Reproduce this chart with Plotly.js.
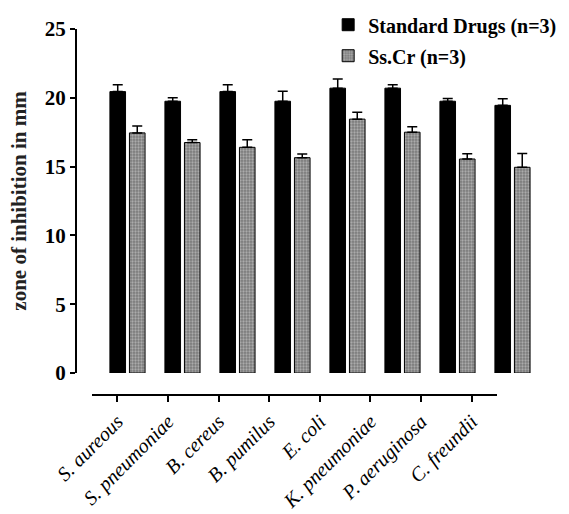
<!DOCTYPE html>
<html>
<head>
<meta charset="utf-8">
<script src="https://cdn.plot.ly/plotly-3.0.1.min.js"></script>
<style>html,body{margin:0;padding:0;background:#fff;}#chart{width:569px;height:514px;}</style>
</head>
<body>
<div id="chart"></div>
<script>
var categories = ["S. aureous", "S. pneumoniae", "B. cereus", "B. pumilus", "E. coli", "K. pneumoniae", "P. aeruginosa", "C. freundii"];
var stdValues = [20.45, 19.75, 20.45, 19.75, 20.7, 20.7, 19.75, 19.45];
var stdErrors = [0.5, 0.25, 0.5, 0.73, 0.67, 0.24, 0.2, 0.48];
var ssValues = [17.45, 16.75, 16.4, 15.65, 18.45, 17.5, 15.55, 14.95];
var ssErrors = [0.5, 0.2, 0.55, 0.27, 0.5, 0.4, 0.38, 1.0];
var seriesNames = ["Standard Drugs (n=3)", "Ss.Cr (n=3)"];
var yTicks = [0, 5, 10, 15, 20, 25];
var zeros = categories.map(function(){return 0;});

var serif = "Liberation Serif, Times New Roman, serif";

var traces = [
  {
    type: "bar", name: seriesNames[0], x: categories, y: stdValues, legendgroup: "a",
    marker: {color: "#000000", line: {color: "#000000", width: 1}},
    error_y: {type: "data", array: stdErrors, arrayminus: zeros, symmetric: false, color: "#000000", thickness: 1.5, width: 5},
    hoverinfo: "skip"
  },
  {
    type: "bar", name: seriesNames[1], x: categories, y: ssValues, legendgroup: "b",
    marker: {color: "#7c7c7c", line: {color: "#000000", width: 1},
      pattern: {shape: ".", bgcolor: "#7a7a7a", fgcolor: "#ababab", size: 3, solidity: 0.45}},
    error_y: {type: "data", array: ssErrors, arrayminus: zeros, symmetric: false, color: "#000000", thickness: 1.5, width: 5},
    hoverinfo: "skip"
  },
  {
    type: "scatter", mode: "markers", x: categories, y: stdValues, xaxis: "x2", yaxis: "y",
    marker: {opacity: 0}, showlegend: false, hoverinfo: "skip"
  }
];

var layout = {
  width: 569, height: 514,
  margin: {l: 77, r: 9, t: 29, b: 119, autoexpand: false},
  paper_bgcolor: "#ffffff", plot_bgcolor: "rgba(0,0,0,0)",
  barmode: "group", bargap: 0.29, bargroupgap: 0.2,
  showlegend: true,
  legend: {x: 0.52, y: 1.065, xanchor: "left", yanchor: "top", bgcolor: "rgba(0,0,0,0)",
    font: {family: serif, size: 20, color: "#000", weight: "bold"}, traceorder: "grouped", tracegroupgap: 2},
  xaxis: {type: "category", categoryarray: categories, range: [-0.918, 7.864], domain: [0, 1], automargin: false,
    showline: false, showticklabels: false, ticks: "", showgrid: false, zeroline: false, anchor: "y", fixedrange: true},
  xaxis2: {type: "category", categoryarray: categories, range: [-0.5, 7.5], domain: [0.031, 0.8696], automargin: false,
    anchor: "free", position: 0, showline: true, linecolor: "#000", linewidth: 2,
    ticks: "outside", ticklen: 6, tickwidth: 2, tickcolor: "#000", tickangle: -45,
    tickfont: {family: serif, size: 20, color: "#000", style: "italic"},
    showgrid: false, zeroline: false, fixedrange: true},
  yaxis: {range: [0, 25], domain: [0.0601, 1], tickvals: yTicks, ticktext: yTicks.map(String), automargin: false,
    showline: true, linecolor: "#000", linewidth: 2, ticks: "outside", ticklen: 5, tickwidth: 2, tickcolor: "#000",
    showgrid: false, zeroline: false, anchor: "x",
    tickfont: {family: serif, size: 21, color: "#000", weight: "bold"},
    title: {text: "zone of inhibition in mm", font: {family: serif, size: 21, color: "#222", weight: "bold"}, standoff: 12},
    fixedrange: true}
};

Plotly.newPlot("chart", traces, layout, {displayModeBar: false, staticPlot: true});
</script>
</body>
</html>
